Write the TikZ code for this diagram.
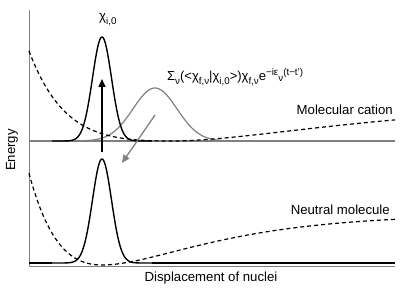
\documentclass[tikz,border=0pt]{standalone}
\usepackage{fontspec}
\setmainfont{Liberation Sans}
\usetikzlibrary{arrows.meta}
\newcommand{\lowtext}[1]{\raisebox{-4bp}{\fontsize{9.8bp}{10bp}\selectfont #1}}
\newcommand{\hightext}[1]{\raisebox{5bp}{\fontsize{9.8bp}{10bp}\selectfont #1}}

\begin{document}
\begin{tikzpicture}[x=1bp, y=1bp, line join=round,
    every node/.style={font=\fontsize{13.2bp}{15bp}\selectfont, inner sep=0bp},
    wave/.style={line width=1.4bp},
    pot/.style={line width=1.2bp, dash pattern=on 4bp off 3bp},
    jump/.style={line width=1.5bp, -{Triangle[length=8bp, width=7bp]}}]
  \useasboundingbox (0,0) rectangle (415,295);
  % x of the packets, baselines of the two levels
  \pgfmathsetmacro{\xc}{102}
  \pgfmathsetmacro{\yn}{32}
  \pgfmathsetmacro{\yc}{154}

  % axes
  \draw[gray, line width=1bp] (29,285) -- (29,28) -- (395,28);

  % molecular cation: level, potential, packets
  \draw[gray, line width=1.2bp] (29,\yc) -- (395,\yc);
  \draw[gray, line width=1.2bp] plot[domain=75:235, samples=120]
    (\x, {\yc + 53*exp(-((\x-155)^2)/(2*22^2))});
  \draw[pot] plot[domain=29:170, samples=80] (\x, {\yc + 4.6*(exp(0.012*(170-\x))-1)^2})
    -- plot[domain=170:395, samples=80] (\x, {\yc + 38.5*(1-exp(-0.006*(\x-170)))^2});
  \draw[wave] plot[domain=52:152, samples=120]
    (\x, {\yc + 104*exp(-((\x-\xc)^2)/(2*9.5^2))});

  % neutral molecule
  \draw[wave] (29,\yn) -- (52,\yn);
  \draw[wave] plot[domain=52:152, samples=120]
    (\x, {\yn + 104*exp(-((\x-\xc)^2)/(2*9.5^2))});
  \draw[wave] (152,\yn) -- (395,\yn);
  \draw[pot] plot[domain=29:102, samples=60] (\x, {30 + 51*(exp(0.01166*(102-\x))-1)^2})
    -- plot[domain=102:395, samples=100] (\x, {30 + 51*(1-exp(-0.01*(\x-102)))^2});

  % transitions
  \coordinate (up0) at (\xc,143);
  \coordinate (up1) at (\xc,216);
  \coordinate (dn0) at (155,180);
  \coordinate (dn1) at (122,132);
  \draw[jump] (up0) -- (up1);
  \draw[jump, gray, line width=1.3bp] (dn0) -- (dn1);

  \node[anchor=base west] (chi) at (99,275) {χ\lowtext{i,0}};
  \node[anchor=base west, font=\fontsize{13bp}{15bp}\selectfont] (proj) at (167,215)
    {Σ\lowtext{ν}(<χ\lowtext{f,ν}|χ\lowtext{i,0}>)χ\lowtext{f,ν}e\hightext{−iε\raisebox{-6bp}{ν}(t−t')}};
  \node[anchor=base east] (cation)  at (393,181) {Molecular cation};
  \node[anchor=base east] (neutral) at (390,81)  {Neutral molecule};
  \node[anchor=base] (xlab) at (211,13.5) {Displacement of nuclei};
  \node[rotate=90] (ylab) at (12,145) {Energy};
\end{tikzpicture}
\end{document}
